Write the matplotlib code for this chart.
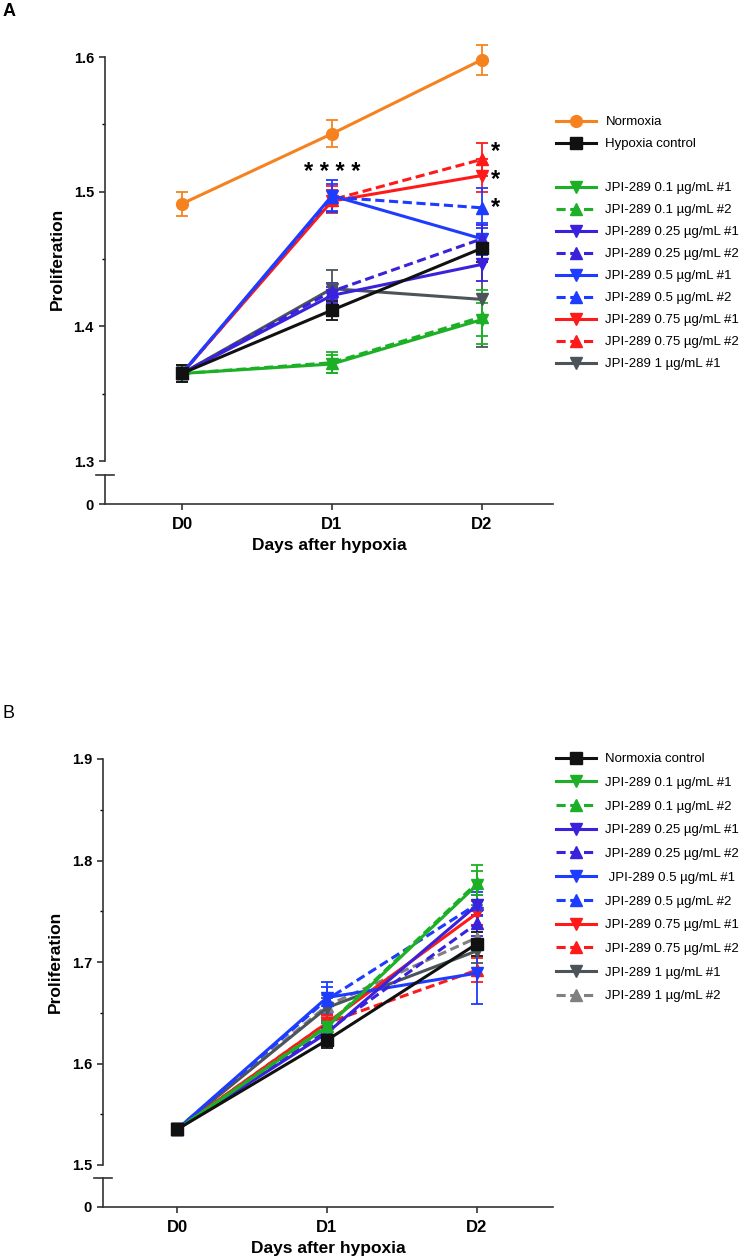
import numpy as np
import matplotlib
matplotlib.use('Agg')
import matplotlib.pyplot as plt

plt.rcParams['font.family'] = ['Liberation Sans', 'DejaVu Sans']

days = ['D0', 'D1', 'D2']

# panel A values (mean, error)
a_normoxia = [1.491, 1.543, 1.598]
a_normoxia_err = [0.009, 0.010, 0.011]
a_hypoxia = [1.365, 1.412, 1.458]
a_hypoxia_err = [0.006, 0.007, 0.010]
a_01_1 = [1.365, 1.372, 1.405]
a_01_1_err = [0.006, 0.007, 0.012]
a_01_2 = [1.365, 1.373, 1.407]
a_01_2_err = [0.006, 0.008, 0.020]
a_025_1 = [1.365, 1.423, 1.446]
a_025_1_err = [0.006, 0.006, 0.012]
a_025_2 = [1.365, 1.426, 1.465]
a_025_2_err = [0.006, 0.006, 0.010]
a_05_1 = [1.365, 1.497, 1.465]
a_05_1_err = [0.006, 0.012, 0.012]
a_05_2 = [1.365, 1.496, 1.488]
a_05_2_err = [0.006, 0.010, 0.015]
a_075_1 = [1.365, 1.493, 1.512]
a_075_1_err = [0.006, 0.008, 0.012]
a_075_2 = [1.365, 1.494, 1.524]
a_075_2_err = [0.006, 0.010, 0.012]
a_1_1 = [1.365, 1.428, 1.420]
a_1_1_err = [0.006, 0.014, 0.035]

# panel B values (mean, error)
b_normoxia = [1.535, 1.623, 1.718]
b_normoxia_err = [0.005, 0.008, 0.012]
b_01_1 = [1.535, 1.636, 1.776]
b_01_1_err = [0.005, 0.008, 0.020]
b_01_2 = [1.535, 1.637, 1.778]
b_01_2_err = [0.005, 0.008, 0.012]
b_025_1 = [1.535, 1.630, 1.756]
b_025_1_err = [0.005, 0.010, 0.010]
b_025_2 = [1.535, 1.632, 1.738]
b_025_2_err = [0.005, 0.010, 0.012]
b_05_1 = [1.535, 1.665, 1.689]
b_05_1_err = [0.005, 0.015, 0.030]
b_05_2 = [1.535, 1.663, 1.757]
b_05_2_err = [0.005, 0.012, 0.012]
b_075_1 = [1.535, 1.640, 1.748]
b_075_1_err = [0.005, 0.008, 0.012]
b_075_2 = [1.535, 1.640, 1.692]
b_075_2_err = [0.005, 0.008, 0.012]
b_1_1 = [1.535, 1.655, 1.711]
b_1_1_err = [0.005, 0.010, 0.012]
b_1_2 = [1.535, 1.657, 1.724]
b_1_2_err = [0.005, 0.010, 0.012]

orange = '#F5821F'
black = '#111111'
green = '#1DB026'
violet = '#3A22DC'
blue = '#1E3CFF'
red = '#FF1A1A'
gray = '#4B5559'
lgray = '#808080'
spine_c = '#333333'

# label, y, err, color, marker, dashed
series_a = [
    ('Normoxia', a_normoxia, a_normoxia_err, orange, 'o', False),
    ('Hypoxia control', a_hypoxia, a_hypoxia_err, black, 's', False),
    (None, None, None, None, None, False),
    ('JPI-289 0.1 µg/mL #1', a_01_1, a_01_1_err, green, 'v', False),
    ('JPI-289 0.1 µg/mL #2', a_01_2, a_01_2_err, green, '^', True),
    ('JPI-289 0.25 µg/mL #1', a_025_1, a_025_1_err, violet, 'v', False),
    ('JPI-289 0.25 µg/mL #2', a_025_2, a_025_2_err, violet, '^', True),
    ('JPI-289 0.5 µg/mL #1', a_05_1, a_05_1_err, blue, 'v', False),
    ('JPI-289 0.5 µg/mL #2', a_05_2, a_05_2_err, blue, '^', True),
    ('JPI-289 0.75 µg/mL #1', a_075_1, a_075_1_err, red, 'v', False),
    ('JPI-289 0.75 µg/mL #2', a_075_2, a_075_2_err, red, '^', True),
    ('JPI-289 1 µg/mL #1', a_1_1, a_1_1_err, gray, 'v', False),
]
series_b = [
    ('Normoxia control', b_normoxia, b_normoxia_err, black, 's', False),
    ('JPI-289 0.1 µg/mL #1', b_01_1, b_01_1_err, green, 'v', False),
    ('JPI-289 0.1 µg/mL #2', b_01_2, b_01_2_err, green, '^', True),
    ('JPI-289 0.25 µg/mL #1', b_025_1, b_025_1_err, violet, 'v', False),
    ('JPI-289 0.25 µg/mL #2', b_025_2, b_025_2_err, violet, '^', True),
    (' JPI-289 0.5 µg/mL #1', b_05_1, b_05_1_err, blue, 'v', False),
    ('JPI-289 0.5 µg/mL #2', b_05_2, b_05_2_err, blue, '^', True),
    ('JPI-289 0.75 µg/mL #1', b_075_1, b_075_1_err, red, 'v', False),
    ('JPI-289 0.75 µg/mL #2', b_075_2, b_075_2_err, red, '^', True),
    ('JPI-289 1 µg/mL #1', b_1_1, b_1_1_err, gray, 'v', False),
    ('JPI-289 1 µg/mL #2', b_1_2, b_1_2_err, lgray, '^', True),
]

W, H = 746, 1257
fig = plt.figure(figsize=(W / 100, H / 100), dpi=100)


def fr(x0, y_top, x1, y_bot):
    # pixel box -> figure fraction
    return [x0 / W, 1 - y_bot / H, (x1 - x0) / W, (y_bot - y_top) / H]


def panel(series, ylo, yhi, px_left, y_top, y_bot, y_brk, y_zero, leg_top, lab_spacing, xleft):
    x = np.arange(len(days))
    ax = fig.add_axes(fr(px_left, y_top, 553, y_bot))
    axb = fig.add_axes(fr(px_left, y_brk, 553, y_zero))
    handles, labels = [], []
    for lab, y, e, c, m, dashed in series[::-1]:
        if lab is None:
            continue
        ls = (0, (3.0, 1.5)) if dashed else '-'
        ax.errorbar(x, y, yerr=e, color=c, lw=2.2, ls=ls, marker=m, ms=8.5,
                    capsize=4.5, capthick=1.3, elinewidth=1.3, clip_on=False)
    for lab, y, e, c, m, dashed in series:
        if lab is None:
            h, = ax.plot([], [], color='none')
            handles.append(h)
            labels.append(' ')
            continue
        ls = (0, (3.0, 1.5)) if dashed else '-'
        h, = ax.plot([], [], color=c, lw=2.2, ls=ls, marker=m, ms=8.5)
        handles.append(h)
        labels.append(lab)
    for a in (ax, axb):
        a.set_xlim(xleft, xleft + (553 - px_left) / 150.0)
        for s in ('top', 'right'):
            a.spines[s].set_visible(False)
        a.spines['left'].set_color(spine_c)
        a.spines['left'].set_linewidth(1.2)
        a.tick_params(colors=spine_c, width=1.2, labelsize=10.5, labelcolor='black')
        a.patch.set_alpha(0)
    ax.spines['bottom'].set_visible(False)
    ax.set_xticks([])
    ax.set_ylim(ylo, yhi)
    ax.set_yticks(np.round(np.arange(ylo, yhi + 0.001, 0.1), 2))
    ax.set_yticklabels(['%.1f' % v for v in ax.get_yticks()], fontweight='bold')
    ax.set_yticks(np.arange(ylo + 0.05, yhi, 0.1), minor=True)
    ax.tick_params(axis='y', which='major', length=4.5)
    ax.tick_params(axis='y', which='minor', length=2.5, width=1.0)
    ax.set_ylabel('Proliferation', fontsize=12.5, fontweight='bold', labelpad=6)
    axb.set_ylim(0, 1)
    axb.set_yticks([0])
    axb.set_yticklabels(['0'], fontweight='bold')
    axb.tick_params(axis='y', length=4.5)
    axb.plot([-0.02, 0.02], [1, 1], transform=axb.transAxes, color=spine_c, lw=1.2, clip_on=False)
    axb.spines['bottom'].set_color(spine_c)
    axb.spines['bottom'].set_linewidth(1.2)
    axb.set_xticks(x)
    axb.set_xticklabels(days, fontweight='bold', fontsize=12)
    axb.tick_params(axis='x', length=4.5, pad=5)
    axb.set_xlabel('Days after hypoxia', fontsize=12.5, fontweight='bold', labelpad=4)
    fig.legend(handles, labels, loc='upper left', bbox_to_anchor=(556 / W, 1 - leg_top / H),
               frameon=False, fontsize=9.5, handlelength=3.0, handletextpad=0.75,
               labelspacing=lab_spacing, borderpad=0, borderaxespad=0)
    return ax


axA = panel(series_a, 1.3, 1.6, 105, 57, 461, 475, 504, 116, 0.74, -0.513)
axA.text(1, 1.514, '* * * *', ha='center', va='center', fontsize=17, fontweight='bold')
for yy in (1.530, 1.509, 1.488):
    axA.text(2.09, yy, '*', ha='center', va='center', fontsize=17, fontweight='bold')

axB = panel(series_b, 1.5, 1.9, 103, 759, 1165, 1178, 1207, 753, 0.87, -0.493)

fig.text(3 / W, 1 - 12 / H, 'A', fontsize=13, fontweight='bold', va='center')
fig.text(3 / W, 1 - 713 / H, 'B', fontsize=13, va='center')

fig.savefig('out.png', dpi=100)
